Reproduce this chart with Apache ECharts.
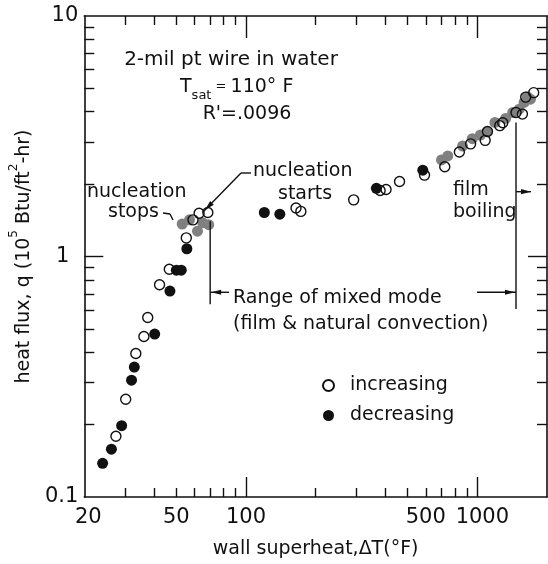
<!DOCTYPE html>
<html>
<head>
<meta charset="utf-8">
<script src="https://cdn.jsdelivr.net/npm/echarts@6/dist/echarts.min.js"></script>
<style>
  html, body { margin: 0; padding: 0; background: #fff; }
  #chart { width: 548px; height: 564px; }
</style>
</head>
<body>
<div id="chart"></div>
<script>
// wall superheat dT (F) and heat flux q (10^5 Btu/ft2-hr)
const increasingDT = [27.4, 30.2, 33.4, 36.2, 37.6, 42.3, 46.6, 55.2, 59, 62.7, 68.4, 164.5, 172.6, 292, 380, 403, 461, 591, 723, 836, 935, 1081, 1106, 1250, 1288, 1469, 1566, 1618, 1752];
const increasingQ = [0.179, 0.255, 0.395, 0.465, 0.558, 0.763, 0.885, 1.195, 1.42, 1.514, 1.524, 1.59, 1.54, 1.72, 1.88, 1.90, 2.05, 2.18, 2.36, 2.72, 2.94, 3.04, 3.31, 3.5, 3.6, 3.97, 3.91, 4.6, 4.80];

const decreasingDT = [24.0, 26.2, 29.0, 32.0, 32.9, 40.3, 46.9, 50.0, 52.5, 55.5, 120, 140, 366, 581];
const decreasingQ = [0.138, 0.158, 0.198, 0.306, 0.347, 0.476, 0.718, 0.877, 0.877, 1.077, 1.524, 1.50, 1.92, 2.285];

// points printed grey in the original (faint decreasing marks)
const fadedDT = [53, 57, 61.7, 65, 69, 700, 745, 863, 951, 1031, 1099, 1191, 1325, 1422, 1517, 1592, 1643, 1697];
const fadedQ = [1.365, 1.42, 1.274, 1.38, 1.356, 2.52, 2.62, 2.88, 3.09, 3.20, 3.30, 3.61, 3.75, 3.97, 4.10, 4.37, 4.62, 4.51];

// axes
const xRange = [20, 2000];
const yRange = [0.1, 10];
const xTickLabels = [20, 50, 100, 500, 1000];
const xMajorTicks = [100, 1000];
const xMinorTicks = [30, 40, 50, 60, 70, 80, 90, 200, 300, 400, 500, 600, 700, 800, 900];
const yTickLabels = [0.1, 1, 10];
const yMajorTicks = [1];
const yMinorTicks = [0.2, 0.3, 0.4, 0.5, 0.6, 0.7, 0.8, 0.9, 2, 3, 4, 5, 6, 7, 8, 9];

const FONT = 'DejaVu Sans';
const INK = '#111';
const lg = Math.log10;
const zip = (a, b) => a.map((v, i) => [v, b[i]]);
const fmtPow = v => String(+Math.pow(10, v).toPrecision(3));

// the original lettering sits a little off some ticks
const tickText = { fontFamily: FONT, fontSize: 21, color: INK };
const xLabelRich = {
  p20: Object.assign({ padding: [0, 0, 0, 8] }, tickText),
  p500: Object.assign({ padding: [0, 0, 0, 36] }, tickText),
  p1000: Object.assign({ padding: [0, 0, 0, 10] }, tickText)
};
const yLabelRich = {
  p1: Object.assign({ padding: [0, 9, 0, 0] }, tickText)
};
const richFmt = rich => v => {
  const t = fmtPow(v);
  return rich['p' + t] ? '{p' + t + '|' + t + '}' : t;
};

// log-space value axis used only to draw ticks / labels at decade positions
function tickAxis(range, position, ticks, len, extra) {
  return Object.assign({
    type: 'value',
    position: position,
    min: lg(range[0]),
    max: lg(range[1]),
    axisLine: { show: false, onZero: false },
    splitLine: { show: false },
    axisTick: {
      show: true, inside: true, length: len,
      customValues: ticks.map(lg),
      lineStyle: { color: INK, width: 1.4 }
    },
    axisLabel: { show: false }
  }, extra || {});
}

const borderLine = { show: true, onZero: false, lineStyle: { color: INK, width: 1.6 } };

const option = {
  animation: false,
  backgroundColor: '#fff',
  grid: { left: 72, right: 1, top: 16, bottom: 62, containLabel: false },
  legend: {
    data: ['increasing', 'decreasing'],
    orient: 'vertical',
    left: 317,
    top: 371,
    itemWidth: 11,
    itemHeight: 11,
    itemGap: 11,
    icon: 'circle',
    textStyle: { fontFamily: FONT, fontSize: 19, color: INK, padding: [0, 0, 0, 11] }
  },
  xAxis: [
    {
      type: 'log', logBase: 10, min: xRange[0], max: xRange[1], position: 'bottom',
      axisLine: borderLine, axisTick: { show: false }, axisLabel: { show: false },
      splitLine: { show: false }
    },
    tickAxis(xRange, 'bottom', xMajorTicks, 20, {
      axisLabel: Object.assign({
        show: true, customValues: xTickLabels.map(lg), margin: 10,
        formatter: richFmt(xLabelRich), rich: xLabelRich
      }, tickText),
      name: 'wall superheat,ΔT(°F)',
      nameLocation: 'middle',
      nameGap: 43,
      nameTextStyle: { fontFamily: FONT, fontSize: 19, color: INK }
    }),
    tickAxis(xRange, 'bottom', xMinorTicks, 9),
    tickAxis(xRange, 'top', xMajorTicks, 22, { axisLine: borderLine }),
    tickAxis(xRange, 'top', xMinorTicks, 9)
  ],
  yAxis: [
    {
      type: 'log', logBase: 10, min: yRange[0], max: yRange[1], position: 'left',
      axisLine: borderLine, axisTick: { show: false }, axisLabel: { show: false },
      splitLine: { show: false }
    },
    tickAxis(yRange, 'left', yMajorTicks, 19, {
      axisLabel: Object.assign({
        show: true, customValues: yTickLabels.map(lg), margin: 6,
        formatter: richFmt(yLabelRich), rich: yLabelRich
      }, tickText),
      name: '{a|heat flux, q (10}{s|5}{a| Btu/ft}{s|2}{a|-hr)}',
      nameLocation: 'middle',
      nameGap: 42,
      nameTextStyle: {
        rich: {
          a: { fontFamily: FONT, fontSize: 19, color: INK, verticalAlign: 'bottom', lineHeight: 26 },
          s: { fontFamily: FONT, fontSize: 12, color: INK, verticalAlign: 'top', lineHeight: 26 }
        }
      }
    }),
    tickAxis(yRange, 'left', yMinorTicks, 10),
    tickAxis(yRange, 'right', yMajorTicks, 19, { axisLine: borderLine }),
    tickAxis(yRange, 'right', yMinorTicks, 10)
  ],
  series: [
    {
      name: 'faded', type: 'scatter', symbol: 'circle', symbolSize: 11,
      itemStyle: { color: '#808080', opacity: 1 },
      data: zip(fadedDT, fadedQ), z: 2
    },
    {
      name: 'decreasing', type: 'scatter', symbol: 'circle', symbolSize: 11,
      itemStyle: { color: '#111', opacity: 1 },
      data: zip(decreasingDT, decreasingQ), z: 3
    },
    {
      name: 'increasing', type: 'scatter', symbol: 'circle', symbolSize: 10,
      itemStyle: { color: 'rgba(255,255,255,0)', borderColor: '#111', borderWidth: 1.4, opacity: 1 },
      data: zip(increasingDT, increasingQ), z: 4
    }
  ]
};

const chart = echarts.init(document.getElementById('chart'));
chart.setOption(option);

// annotations
const px = p => chart.convertToPixel({ seriesIndex: 0 }, p);
const lineStyle = { stroke: INK, lineWidth: 1.4 };

function seg(a, b) {
  return { type: 'line', shape: { x1: a[0], y1: a[1], x2: b[0], y2: b[1] }, style: lineStyle, z: 10 };
}
function head(tip, from) {
  const dx = tip[0] - from[0], dy = tip[1] - from[1];
  const d = Math.hypot(dx, dy), ux = dx / d, uy = dy / d;
  const L = 10, W = 2.6;
  const bx = tip[0] - ux * L, by = tip[1] - uy * L;
  return {
    type: 'polygon', z: 10,
    shape: { points: [tip, [bx - uy * W, by + ux * W], [bx + uy * W, by - ux * W]] },
    style: { fill: INK }
  };
}
function label(text, x, y, align, size) {
  return {
    type: 'text', x: x, y: y, z: 10,
    style: { text: text, fontFamily: FONT, fontSize: size || 19, fill: INK,
             textAlign: align || 'left', textVerticalAlign: 'middle' }
  };
}

const mixedLeft = 70, mixedRight = 1469;
const lTop = px([mixedLeft, 1.40]), lBot = px([mixedLeft, 0.633]);
const rTop = px([mixedRight, 3.61]), rBot = px([mixedRight, 0.605]);
const arrowY = px([mixedLeft, 0.71])[1];
const filmY = px([mixedRight, 1.86])[1];

const graphic = [
  seg(lTop, lBot),
  seg(rTop, rBot),
  seg([lTop[0], arrowY], [229, arrowY]),
  head([lTop[0] + 1, arrowY], [229, arrowY]),
  seg([477, arrowY], [rTop[0], arrowY]),
  head([rTop[0] - 1, arrowY], [477, arrowY]),
  seg([rTop[0], filmY], [531, filmY]),
  head([531, filmY], [rTop[0], filmY]),
  // nucleation starts leader
  seg([203, 212], [241, 173]),
  seg([241, 173], [251, 173]),
  head([205, 210], [241, 173]),
  // nucleation stops leader
  seg([163, 213], [170, 214]),
  seg([170, 214], [173, 220]),

  label('2-mil pt wire in water', 231, 60, 'center', 20),
  {
    type: 'text', x: 180, y: 87, z: 10,
    style: {
      text: '{a|T}{s|sat}{e| = }{a|110° F}',
      textAlign: 'left', textVerticalAlign: 'middle',
      rich: {
        a: { fontFamily: FONT, fontSize: 19, fill: INK, color: INK, lineHeight: 30, verticalAlign: 'middle' },
        s: { fontFamily: FONT, fontSize: 13, fill: INK, color: INK, lineHeight: 30, verticalAlign: 'bottom' },
        e: { fontFamily: FONT, fontSize: 13, fill: INK, color: INK, lineHeight: 30, verticalAlign: 'middle' }
      }
    }
  },
  label("R'=.0096", 247, 114, 'center'),
  label('nucleation', 87, 192),
  label('stops', 108, 212),
  label('nucleation', 253, 171),
  label('starts', 278, 194),
  label('film', 453, 190),
  label('boiling', 453, 212),
  label('Range of mixed mode', 233, 298),
  label('(film & natural convection)', 233, 324)
];

chart.setOption({ graphic: graphic });
</script>
</body>
</html>
